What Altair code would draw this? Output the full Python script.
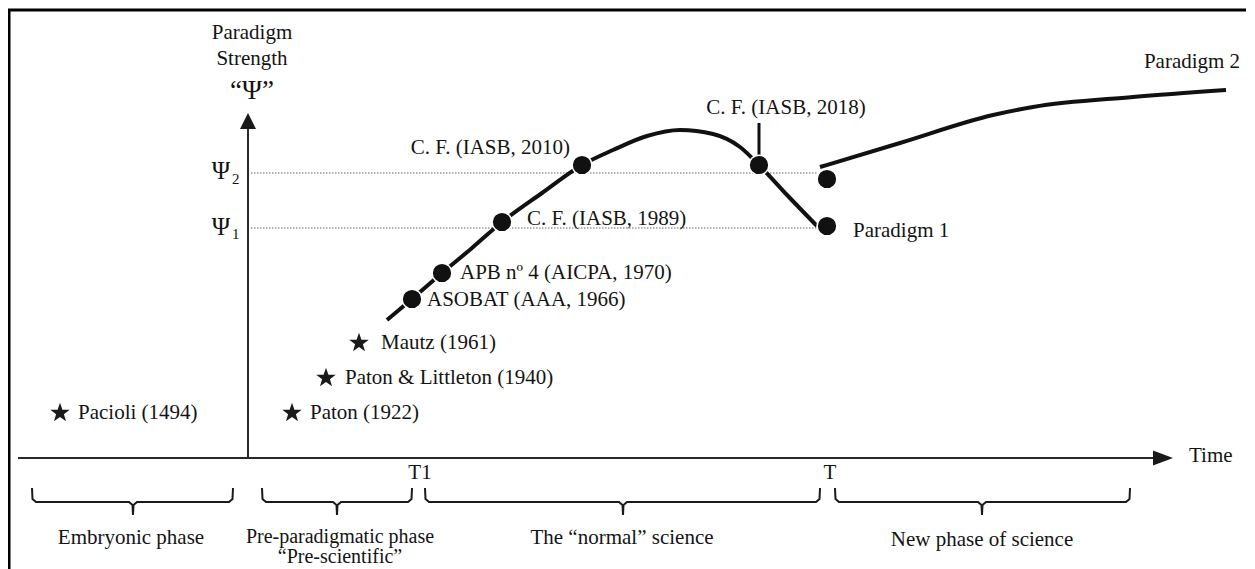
import altair as alt
import pandas as pd

# ---- drawing frame (diagram units: horizontal = time, vertical = paradigm strength, top = strongest)
W, H = 1239, 561
X_DOM = [8, 8 + W]
Y_DOM = [8, 8 + H]

FONT = "Liberation Serif"
INK = "#141414"
STAR = ("M0,-1L0.235,-0.324L0.951,-0.309L0.38,0.124L0.588,0.809L0,0.4"
        "L-0.588,0.809L-0.38,0.124L-0.951,-0.309L-0.235,-0.324Z")

# ---- Paradigm 1 curve
p1_time = [387, 412, 442, 472, 502, 542, 582, 613, 647, 680, 713, 740, 759, 788, 817]
p1_strength = [320, 299, 273, 248, 222, 193, 165, 150, 136, 130, 134, 147, 165, 196, 226]

# ---- Paradigm 2 curve
p2_time = [820, 900, 993, 1033, 1133, 1226]
p2_strength = [167, 143, 115, 107, 97, 90]

# ---- milestones on the curve (dots)
dot_labels = ["ASOBAT (AAA, 1966)", "APB nº 4 (AICPA, 1970)", "C. F. (IASB, 1989)",
              "C. F. (IASB, 2010)", "C. F. (IASB, 2018)", "Paradigm 1", "Ψ2 new"]
dot_time = [412, 442, 502, 582, 759, 827, 827]
dot_strength = [299, 273, 222, 165, 165, 226, 179]

# ---- pre-paradigmatic contributions (stars)
star_labels = ["Pacioli (1494)", "Paton (1922)", "Paton & Littleton (1940)", "Mautz (1961)"]
star_time = [60, 292, 326, 359]
star_strength = [413, 413, 378, 343]

# ---- reference levels
psi_names = ["Ψ", "Ψ"]
psi_subs = ["2", "1"]
psi_levels = [173, 228]
psi_end = 817

# ---- phases
phase_names = ["Embryonic phase", "Pre-paradigmatic phase", "The “normal” science", "New phase of science"]
phase_start = [32, 262, 425, 835]
phase_end = [233, 412, 820, 1130]
phase_mid = [133, 337, 623, 982]
phase_label_mid = [131, 340, 622, 982]

# ---- axes
origin_time = 248
time_axis_level = 458
time_axis_start = 18
time_axis_end = 1156
strength_axis_top = 126

xs = alt.Scale(domain=X_DOM, nice=False, zero=False)
ys = alt.Scale(domain=Y_DOM, nice=False, zero=False, reverse=True)


def X(f):
    return alt.X(f, type="quantitative", scale=xs, axis=None)


def Y(f):
    return alt.Y(f, type="quantitative", scale=ys, axis=None)


# frame (left + top border)
frame = pd.DataFrame({"x0": [9, 8], "x1": [9, 1246], "y0": [10, 10], "y1": [8 + H, 10]})
frame_l = alt.Chart(frame).mark_rule(color="#000", strokeWidth=3).encode(
    x=X("x0"), x2="x1", y=Y("y0"), y2="y1")

axes = pd.DataFrame({
    "x0": [time_axis_start, origin_time],
    "x1": [time_axis_end, origin_time],
    "y0": [time_axis_level, time_axis_level],
    "y1": [time_axis_level, strength_axis_top],
})
axes_l = alt.Chart(axes).mark_rule(color="#2a2a2a", strokeWidth=2).encode(
    x=X("x0"), x2="x1", y=Y("y0"), y2="y1")

arrow_r = alt.Chart(pd.DataFrame({"x": [time_axis_end + 7], "y": [time_axis_level]})).mark_point(
    shape="M-1,-0.75L1,0L-1,0.75Z", filled=True, opacity=1, color="#1a1a1a", size=400, strokeWidth=0
).encode(x=X("x"), y=Y("y"))
arrow_u = alt.Chart(pd.DataFrame({"x": [origin_time], "y": [121]})).mark_point(
    shape="M-1,1L0,-1L1,1Z", filled=True, opacity=1, color="#1a1a1a", size=256, strokeWidth=0
).encode(x=X("x"), y=Y("y"))

# dotted reference levels
psi_df = pd.DataFrame({"x0": [origin_time + 3] * 2, "x1": [psi_end] * 2, "y": psi_levels})
psi_l = alt.Chart(psi_df).mark_rule(color="#666", strokeWidth=1.2, strokeDash=[1.5, 1.5]).encode(
    x=X("x0"), x2="x1", y=Y("y"))

# paradigm curves
p1_df = pd.DataFrame({"t": p1_time, "s": p1_strength})
p1_l = alt.Chart(p1_df).mark_line(color="#111", strokeWidth=4, interpolate="monotone").encode(
    x=X("t"), y=Y("s"), order="t:Q")
p2_df = pd.DataFrame({"t": p2_time, "s": p2_strength})
p2_l = alt.Chart(p2_df).mark_line(color="#111", strokeWidth=4, interpolate="monotone").encode(
    x=X("t"), y=Y("s"), order="t:Q")

# 2018 leader
lead_df = pd.DataFrame({"x": [759], "y0": [123], "y1": [158]})
lead_l = alt.Chart(lead_df).mark_rule(color="#111", strokeWidth=3).encode(
    x=X("x"), y=Y("y0"), y2="y1")

# dots
dots_df = pd.DataFrame({"t": dot_time, "s": dot_strength, "label": dot_labels})
dots_l = alt.Chart(dots_df).mark_point(shape="circle", filled=True, opacity=1, color="#111",
                                        size=390, stroke="white", strokeWidth=1.5).encode(
    x=X("t"), y=Y("s"))

# stars
stars_df = pd.DataFrame({"t": star_time, "s": star_strength, "label": star_labels})
stars_l = alt.Chart(stars_df).mark_point(shape=STAR, filled=True, opacity=1, color="#1a1a1a",
                                          size=420, strokeWidth=0).encode(x=X("t"), y=Y("s"))

# brackets
br_rows = []
for i, (a, b, m) in enumerate(zip(phase_start, phase_end, phase_mid)):
    pts = [(a, 488), (a + 0.5, 499), (a + 4, 502), (m - 4, 502), (m - 0.5, 505), (m, 515),
           (m + 0.5, 505), (m + 4, 502), (b - 4, 502), (b - 0.5, 499), (b, 488)]
    for k, (px, py) in enumerate(pts):
        br_rows.append({"g": i, "k": k, "x": px, "y": py})
br_df = pd.DataFrame(br_rows)
br_l = alt.Chart(br_df).mark_line(color="#1a1a1a", strokeWidth=2).encode(
    x=X("x"), y=Y("y"), order="k:Q", detail="g:N")

# texts
left_txt = pd.DataFrame({
    "text": ["ASOBAT (AAA, 1966)", "APB nº 4 (AICPA, 1970)", "C. F. (IASB, 1989)", "Paradigm 1", "Time",
             "Pacioli (1494)", "Paton (1922)", "Paton & Littleton (1940)", "Mautz (1961)",
             psi_subs[0], psi_subs[1]],
    "x": [427, 460, 527, 853, 1189, 78, 310, 345, 381, 232, 232],
    "y": [300, 273, 219, 231, 456, 413, 413, 378, 343, 179, 234],
    "fs": [21, 21, 21, 21, 21, 21, 21, 21, 21, 15, 15],
})
center_txt = pd.DataFrame({
    "text": ["C. F. (IASB, 2018)", "Paradigm 2", "Paradigm", "Strength", "“Ψ”", "T1", "T",
             phase_names[0], phase_names[1], "“Pre-scientific”", phase_names[2], phase_names[3],
             psi_names[0], psi_names[1]],
    "x": [786, 1192, 252, 252, 252, 420, 830,
          phase_label_mid[0], phase_label_mid[1], phase_label_mid[1], phase_label_mid[2], phase_label_mid[3],
          221, 221],
    "y": [108, 62, 33, 59, 91, 473, 473, 538, 537, 557, 538, 540, 171, 227],
    "fs": [21, 21, 21, 21, 27, 21, 21, 21, 20, 20, 21, 21, 25, 25],
})
right_txt = pd.DataFrame({"text": ["C. F. (IASB, 2010)"], "x": [570], "y": [148], "fs": [21]})


def text_layer(df, align):
    return alt.Chart(df).mark_text(font=FONT, color=INK, align=align, baseline="middle").encode(
        x=X("x"), y=Y("y"), text="text:N", size=alt.Size("fs:Q", scale=None))


chart = alt.layer(
    frame_l, axes_l, arrow_r, arrow_u, psi_l, p1_l, p2_l, lead_l, dots_l, stars_l, br_l,
    text_layer(left_txt, "left"), text_layer(center_txt, "center"), text_layer(right_txt, "right"),
).properties(width=W, height=H, autosize="none", padding=0).configure_view(strokeWidth=0, strokeOpacity=0)

chart.save("out.html", embed_options={"renderer": "svg", "actions": False})
